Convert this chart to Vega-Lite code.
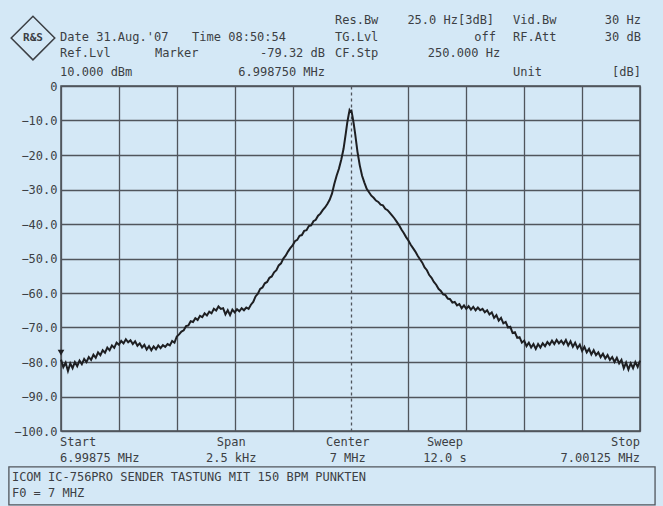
{
  "$schema": "https://vega.github.io/schema/vega-lite/v6.json",
  "width": 579,
  "height": 345,
  "autosize": {"type": "none"},
  "padding": {"left": 61, "top": 86, "right": 23, "bottom": 75},
  "background": "#d4e8f6",
  "config": {
    "view": {"stroke": "#474c52", "strokeWidth": 1.5},
    "text": {"font": "DejaVu Sans Mono", "fontSize": 12, "color": "#3c3f44", "baseline": "middle"}
  },
  "datasets": {
    "trace": [
      {"f":-1250,"db":-79.3},{"f":-1240,"db":-81.5},{"f":-1230,"db":-80.2},{"f":-1220,"db":-82.6},{"f":-1210,"db":-80.4},{"f":-1200,"db":-81.8},{"f":-1190,"db":-80.0},{"f":-1180,"db":-81.2},{"f":-1170,"db":-79.6},{"f":-1160,"db":-80.6},{"f":-1150,"db":-79.1},{"f":-1140,"db":-80.0},{"f":-1130,"db":-78.6},{"f":-1120,"db":-79.4},{"f":-1110,"db":-77.9},{"f":-1100,"db":-78.8},{"f":-1090,"db":-77.2},{"f":-1080,"db":-78.0},{"f":-1070,"db":-76.6},{"f":-1060,"db":-77.3},{"f":-1050,"db":-75.8},{"f":-1040,"db":-76.6},{"f":-1030,"db":-75.2},{"f":-1020,"db":-75.9},{"f":-1010,"db":-74.4},{"f":-1000,"db":-75.0},{"f":-990,"db":-73.9},{"f":-980,"db":-74.6},{"f":-970,"db":-73.4},{"f":-960,"db":-74.3},{"f":-950,"db":-73.7},{"f":-940,"db":-74.8},{"f":-930,"db":-74.0},{"f":-920,"db":-75.3},{"f":-910,"db":-74.6},{"f":-900,"db":-75.8},{"f":-890,"db":-75.0},{"f":-880,"db":-76.4},{"f":-870,"db":-75.4},{"f":-860,"db":-76.6},{"f":-850,"db":-75.5},{"f":-840,"db":-76.3},{"f":-830,"db":-75.2},{"f":-820,"db":-76.0},{"f":-810,"db":-75.1},{"f":-800,"db":-75.6},{"f":-790,"db":-74.8},{"f":-780,"db":-75.2},{"f":-770,"db":-73.9},{"f":-760,"db":-74.4},{"f":-750,"db":-72.6},{"f":-740,"db":-72.0},{"f":-730,"db":-71.2},{"f":-720,"db":-70.8},{"f":-710,"db":-69.6},{"f":-700,"db":-69.4},{"f":-690,"db":-68.2},{"f":-680,"db":-68.4},{"f":-670,"db":-67.3},{"f":-660,"db":-67.8},{"f":-650,"db":-66.6},{"f":-640,"db":-67.0},{"f":-630,"db":-65.9},{"f":-620,"db":-66.5},{"f":-610,"db":-65.4},{"f":-600,"db":-65.9},{"f":-590,"db":-64.6},{"f":-580,"db":-65.1},{"f":-570,"db":-63.9},{"f":-560,"db":-64.6},{"f":-550,"db":-64.4},{"f":-540,"db":-66.2},{"f":-530,"db":-65.0},{"f":-520,"db":-66.4},{"f":-510,"db":-64.8},{"f":-500,"db":-65.6},{"f":-490,"db":-64.7},{"f":-480,"db":-65.3},{"f":-470,"db":-64.4},{"f":-460,"db":-65.0},{"f":-450,"db":-64.2},{"f":-440,"db":-64.6},{"f":-430,"db":-63.4},{"f":-420,"db":-62.6},{"f":-410,"db":-61.0},{"f":-400,"db":-60.2},{"f":-390,"db":-58.8},{"f":-380,"db":-58.4},{"f":-370,"db":-57.2},{"f":-360,"db":-56.8},{"f":-350,"db":-55.6},{"f":-340,"db":-55.2},{"f":-330,"db":-54.0},{"f":-320,"db":-53.4},{"f":-310,"db":-52.0},{"f":-300,"db":-51.4},{"f":-290,"db":-50.0},{"f":-280,"db":-49.2},{"f":-270,"db":-48.0},{"f":-260,"db":-47.0},{"f":-250,"db":-46.2},{"f":-240,"db":-45.0},{"f":-230,"db":-44.6},{"f":-220,"db":-43.4},{"f":-210,"db":-43.2},{"f":-200,"db":-42.0},{"f":-190,"db":-41.8},{"f":-180,"db":-40.6},{"f":-170,"db":-40.4},{"f":-160,"db":-39.2},{"f":-150,"db":-38.8},{"f":-140,"db":-37.6},{"f":-130,"db":-37.0},{"f":-120,"db":-36.0},{"f":-110,"db":-35.2},{"f":-100,"db":-34.2},{"f":-90,"db":-33.0},{"f":-80,"db":-31.2},{"f":-70,"db":-28.4},{"f":-60,"db":-26.0},{"f":-50,"db":-24.0},{"f":-40,"db":-21.4},{"f":-30,"db":-18.2},{"f":-20,"db":-13.6},{"f":-14,"db":-10.6},{"f":-8,"db":-8.4},{"f":-4,"db":-7.0},{"f":0,"db":-7.4},{"f":4,"db":-7.2},{"f":8,"db":-8.6},{"f":14,"db":-11.0},{"f":20,"db":-13.8},{"f":30,"db":-19.0},{"f":40,"db":-23.0},{"f":50,"db":-26.0},{"f":60,"db":-28.0},{"f":70,"db":-29.8},{"f":80,"db":-30.8},{"f":90,"db":-31.8},{"f":100,"db":-32.4},{"f":110,"db":-33.2},{"f":120,"db":-33.6},{"f":130,"db":-34.4},{"f":140,"db":-34.6},{"f":150,"db":-35.6},{"f":160,"db":-36.0},{"f":170,"db":-36.8},{"f":180,"db":-37.6},{"f":190,"db":-38.4},{"f":200,"db":-39.4},{"f":210,"db":-40.4},{"f":220,"db":-41.6},{"f":230,"db":-42.6},{"f":240,"db":-43.8},{"f":250,"db":-44.8},{"f":260,"db":-46.0},{"f":270,"db":-47.0},{"f":280,"db":-48.0},{"f":290,"db":-49.2},{"f":300,"db":-50.2},{"f":310,"db":-51.2},{"f":320,"db":-52.6},{"f":330,"db":-53.4},{"f":340,"db":-54.8},{"f":350,"db":-55.6},{"f":360,"db":-56.8},{"f":370,"db":-57.6},{"f":380,"db":-58.8},{"f":390,"db":-59.4},{"f":400,"db":-60.4},{"f":410,"db":-60.6},{"f":420,"db":-61.6},{"f":430,"db":-61.8},{"f":440,"db":-62.8},{"f":450,"db":-62.6},{"f":460,"db":-63.6},{"f":470,"db":-63.2},{"f":480,"db":-64.4},{"f":490,"db":-63.6},{"f":500,"db":-64.6},{"f":510,"db":-63.8},{"f":520,"db":-64.8},{"f":530,"db":-64.0},{"f":540,"db":-65.0},{"f":550,"db":-64.2},{"f":560,"db":-65.0},{"f":570,"db":-64.6},{"f":580,"db":-65.6},{"f":590,"db":-65.0},{"f":600,"db":-66.2},{"f":610,"db":-65.6},{"f":620,"db":-67.2},{"f":630,"db":-66.4},{"f":640,"db":-68.0},{"f":650,"db":-67.2},{"f":660,"db":-68.8},{"f":670,"db":-68.4},{"f":680,"db":-70.0},{"f":690,"db":-69.8},{"f":700,"db":-71.6},{"f":710,"db":-71.4},{"f":720,"db":-73.0},{"f":730,"db":-72.8},{"f":740,"db":-74.4},{"f":750,"db":-73.8},{"f":760,"db":-75.4},{"f":770,"db":-74.4},{"f":780,"db":-75.8},{"f":790,"db":-74.8},{"f":800,"db":-76.2},{"f":810,"db":-74.8},{"f":820,"db":-75.8},{"f":830,"db":-74.6},{"f":840,"db":-75.4},{"f":850,"db":-74.2},{"f":860,"db":-75.0},{"f":870,"db":-73.8},{"f":880,"db":-74.8},{"f":890,"db":-73.6},{"f":900,"db":-74.6},{"f":910,"db":-73.8},{"f":920,"db":-74.8},{"f":930,"db":-73.6},{"f":940,"db":-75.2},{"f":950,"db":-74.0},{"f":960,"db":-75.6},{"f":970,"db":-74.4},{"f":980,"db":-76.0},{"f":990,"db":-75.0},{"f":1000,"db":-76.8},{"f":1010,"db":-75.6},{"f":1020,"db":-77.2},{"f":1030,"db":-76.2},{"f":1040,"db":-77.8},{"f":1050,"db":-76.6},{"f":1060,"db":-78.0},{"f":1070,"db":-77.2},{"f":1080,"db":-78.6},{"f":1090,"db":-77.6},{"f":1100,"db":-79.0},{"f":1110,"db":-78.0},{"f":1120,"db":-79.4},{"f":1130,"db":-78.6},{"f":1140,"db":-80.0},{"f":1150,"db":-78.8},{"f":1160,"db":-80.4},{"f":1170,"db":-79.4},{"f":1180,"db":-81.8},{"f":1190,"db":-80.2},{"f":1200,"db":-82.2},{"f":1210,"db":-80.4},{"f":1220,"db":-81.8},{"f":1230,"db":-80.0},{"f":1240,"db":-81.4},{"f":1250,"db":-79.6}
    ],
    "textLeft": [
      {"f":-1254,"db":14.2,"text":"Date 31.Aug.'07"},
      {"f":-684,"db":14.2,"text":"Time 08:50:54"},
      {"f":-1254,"db":9.6,"text":"Ref.Lvl"},
      {"f":-844,"db":9.6,"text":"Marker"},
      {"f":-1254,"db":4.1,"text":"10.000 dBm"},
      {"f":-67,"db":19.1,"text":"Res.Bw"},
      {"f":702,"db":19.1,"text":"Vid.Bw"},
      {"f":-67,"db":14.2,"text":"TG.Lvl"},
      {"f":702,"db":14.2,"text":"RF.Att"},
      {"f":-67,"db":9.6,"text":"CF.Stp"},
      {"f":702,"db":4.1,"text":"Unit"},
      {"f":-1254,"db":-103.2,"text":"Start"},
      {"f":-1254,"db":-107.8,"text":"6.99875 MHz"},
      {"f":-1462,"db":-113.3,"text":"ICOM IC-756PRO SENDER TASTUNG MIT 150 BPM PUNKTEN"},
      {"f":-1462,"db":-118.0,"text":"F0 = 7 MHZ"}
    ],
    "textRight": [
      {"f":-110,"db":9.6,"text":"-79.32 dB"},
      {"f":-110,"db":4.1,"text":"6.998750 MHz"},
      {"f":620,"db":19.1,"text":"25.0 Hz[3dB]"},
      {"f":1254,"db":19.1,"text":"30 Hz"},
      {"f":628,"db":14.2,"text":"off"},
      {"f":1254,"db":14.2,"text":"30 dB"},
      {"f":646,"db":9.6,"text":"250.000 Hz"},
      {"f":1254,"db":4.1,"text":"[dB]"},
      {"f":1250,"db":-103.2,"text":"Stop"},
      {"f":1250,"db":-107.8,"text":"7.00125 MHz"}
    ],
    "textCenter": [
      {"f":-515,"db":-103.2,"text":"Span"},
      {"f":-515,"db":-107.8,"text":"2.5 kHz"},
      {"f":-12,"db":-103.2,"text":"Center"},
      {"f":-12,"db":-107.8,"text":"7 MHz"},
      {"f":408,"db":-103.2,"text":"Sweep"},
      {"f":408,"db":-107.8,"text":"12.0 s"}
    ],
    "box": [{"f":-1475,"f2":1315,"db":-110.4,"db2":-121.4}],
    "logo": [{"f":-1371,"db":13.9,"text":"R&S"}],
    "marker": [{"f":-1250,"db":-77.3}]
  },
  "encoding": {
    "x": {"field": "f", "type": "quantitative",
      "scale": {"domain": [-1250, 1250], "nice": false, "zero": false},
      "axis": {"values": [-1250,-1000,-750,-500,-250,0,250,500,750,1000,1250], "labels": false, "ticks": false, "domain": false, "title": null,
        "grid": true, "gridColor": "#50555c", "gridWidth": 1.3, "gridOpacity": 1,
        "gridDash": {"condition": {"test": "datum.value === 0", "value": [3, 3]}, "value": []}}},
    "y": {"field": "db", "type": "quantitative",
      "scale": {"domain": [-100, 0], "nice": false, "zero": false},
      "axis": {"values": [0,-10,-20,-30,-40,-50,-60,-70,-80,-90,-100], "ticks": false, "domain": false, "title": null,
        "labelExpr": "datum.value === 0 ? '0' : format(datum.value, '.1f')",
        "labelFont": "DejaVu Sans Mono", "labelFontSize": 12, "labelColor": "#3c3f44", "labelPadding": 4,
        "grid": true, "gridColor": "#50555c", "gridWidth": 1.3, "gridOpacity": 1}}
  },
  "layer": [
    {"data": {"name": "trace"}, "mark": {"type": "line", "color": "#1e1f22", "strokeWidth": 2}},
    {"data": {"name": "marker"}, "mark": {"type": "point", "shape": "triangle-down", "filled": true, "size": 45, "color": "#1e1f22", "opacity": 1}},
    {"data": {"name": "textLeft"}, "mark": {"type": "text", "align": "left"}, "encoding": {"text": {"field": "text"}}},
    {"data": {"name": "textRight"}, "mark": {"type": "text", "align": "right"}, "encoding": {"text": {"field": "text"}}},
    {"data": {"name": "textCenter"}, "mark": {"type": "text", "align": "center"}, "encoding": {"text": {"field": "text"}}},
    {"data": {"name": "box"}, "mark": {"type": "rect", "fill": null, "fillOpacity": 0, "stroke": "#50555c", "strokeWidth": 1.3},
      "encoding": {"x2": {"field": "f2"}, "y2": {"field": "db2"}}},
    {"data": {"name": "logo"}, "mark": {"type": "point", "shape": "diamond", "size": 1900, "filled": false, "stroke": "#3c3f44", "strokeWidth": 1.5, "opacity": 1}},
    {"data": {"name": "logo"}, "mark": {"type": "text", "align": "center", "fontSize": 11, "fontWeight": "bold", "angle": 0}, "encoding": {"text": {"field": "text"}}}
  ]
}
